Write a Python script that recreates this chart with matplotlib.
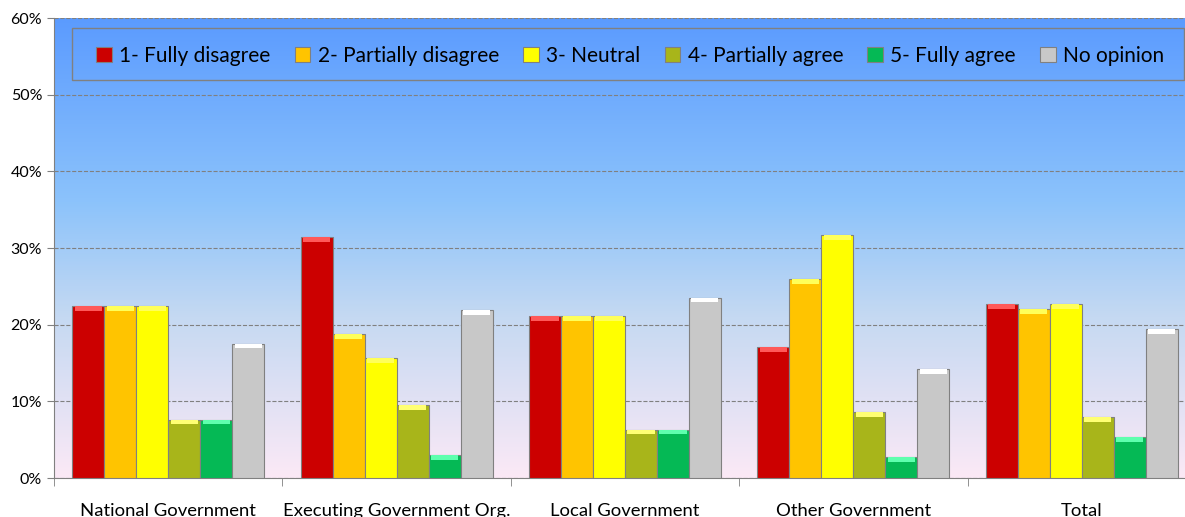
import matplotlib.pyplot as plt
import matplotlib.colors as mcolors
from matplotlib.patches import Rectangle
import numpy as np

plt.rcParams['font.family'] = ['Lato', 'DejaVu Sans']

categories = ["National Government", "Executing Government Org.", "Local Government",
              "Other Government", "Total"]
series = ["1- Fully disagree", "2- Partially disagree", "3- Neutral",
          "4- Partially agree", "5- Fully agree", "No opinion"]
fully_disagree = [22.4, 31.4, 21.1, 17.1, 22.7]
partially_disagree = [22.4, 18.8, 21.1, 25.9, 22.0]
neutral = [22.4, 15.6, 21.1, 31.7, 22.7]
partially_agree = [7.6, 9.5, 6.3, 8.6, 7.9]
fully_agree = [7.6, 3.0, 6.3, 2.7, 5.3]
no_opinion = [17.5, 21.9, 23.5, 14.2, 19.4]
values = [fully_disagree, partially_disagree, neutral, partially_agree, fully_agree, no_opinion]
colors = ["#cc0000", "#ffc400", "#ffff00", "#a8b51a", "#05b955", "#c8c8c8"]

fig = plt.figure(figsize=(11.85, 5.17), dpi=100)
ax = fig.add_axes([0.0456, 0.0754, 0.9636, 0.8896])

# gradient background
grad = mcolors.LinearSegmentedColormap.from_list(
    "bg", [(0.0, "#fbe9f6"), (0.35, "#c5d9f2"), (0.6, "#8cc3fb"), (1.0, "#5b9bff")])
ax.imshow(np.linspace(0, 1, 256).reshape(-1, 1), cmap=grad, aspect="auto",
          extent=[-0.5, 4.5, 0, 60], origin="lower", zorder=0)

x = np.arange(len(categories))
w = 0.14
for i, (name, vals, c) in enumerate(zip(series, values, colors)):
    pos = x + (i - 2.5) * w
    ax.bar(pos, vals, width=w, color=c, edgecolor="#808080", linewidth=0.8,
           label=name, zorder=3)
    # light bevel at the top of each bar
    light = [min(1, v + 0.35) for v in mcolors.to_rgb(c)]
    ax.bar(pos, [0.6] * len(vals), bottom=np.array(vals) - 0.6, width=w * 0.85,
           color=light, linewidth=0, zorder=4)

ax.set_xlim(-0.5, 4.5)
ax.set_ylim(0, 60)
ax.set_yticks(range(0, 61, 10))
ax.set_yticklabels([f"{v}%" for v in range(0, 61, 10)], fontsize=11.5)
ax.set_xticks(x)
ax.set_xticklabels(categories, fontsize=13.3)
ax.tick_params(axis="x", length=0, pad=18)
ax.set_xticks(np.arange(-0.5, 5, 1), minor=True)
ax.tick_params(axis="x", which="minor", length=6, color="#808080")
ax.tick_params(axis="y", length=5, color="#808080")
ax.grid(axis="y", color="#808080", linestyle="--", linewidth=0.8, zorder=1)
for s in ["top", "right"]:
    ax.spines[s].set_visible(False)
for s in ["left", "bottom"]:
    ax.spines[s].set_color("#808080")

# legend frame
ax.add_patch(Rectangle((0.0158, 0.8652), 0.9737, 0.113, transform=ax.transAxes,
                       facecolor="none", edgecolor="#808080", linewidth=1, zorder=5))
ax.legend(loc="upper left", bbox_to_anchor=(0.0368, 0.94), ncol=6, fontsize=15,
          frameon=False, handlelength=0.75, handleheight=0.75,
          handletextpad=0.35, columnspacing=1.17, borderpad=0, borderaxespad=0)

fig.savefig("out.png", dpi=100)
